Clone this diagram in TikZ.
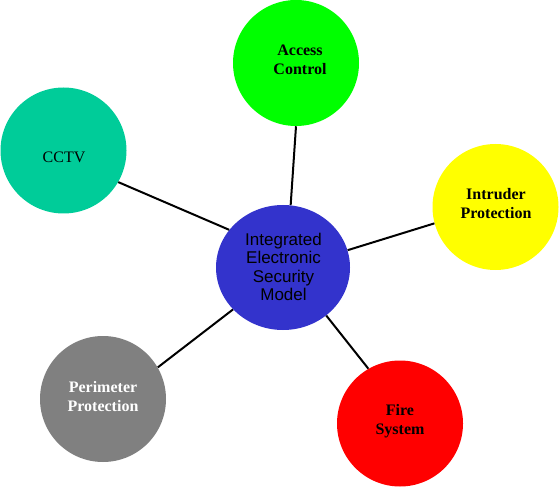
\documentclass[tikz,border=0pt]{standalone}
\usepackage{fontspec}
\setmainfont{Liberation Serif}
\newfontfamily\arialfont{Liberation Sans}
\usetikzlibrary{shapes.geometric}
\definecolor{cblue}{HTML}{3333CC}
\definecolor{cgreen}{HTML}{00FF00}
\definecolor{cteal}{HTML}{00CC99}
\definecolor{cyellow}{HTML}{FFFF00}
\definecolor{cgray}{HTML}{808080}
\definecolor{cred}{HTML}{FF0000}
\tikzset{
  bubble/.style={ellipse, draw=none, inner sep=0pt, minimum width=94.5pt, minimum height=94.5pt},
  hub/.style={ellipse, draw=none, fill=cblue, inner sep=0pt, minimum width=100.5pt, minimum height=93.75pt},
  link/.style={draw=black, line width=1.5pt},
  sertext/.style={align=center, inner sep=0pt, font=\fontsize{12pt}{14.25pt}\selectfont\bfseries},
  hubtext/.style={align=center, inner sep=0pt, font=\arialfont\fontsize{12.75pt}{13.9pt}\selectfont}
}
\begin{document}
\begin{tikzpicture}[x=0.75pt,y=-0.75pt]
\useasboundingbox (0,0) rectangle (560,488);
\node[hub] (hub) at (283,267.5) {};
\node[bubble, fill=cgreen] (acc) at (296,63) {};
\node[bubble, fill=cteal] (cctv) at (63.5,150.5) {};
\node[bubble, fill=cyellow] (intr) at (495.5,207) {};
\node[bubble, fill=cgray] (peri) at (103,399) {};
\node[bubble, fill=cred] (fire) at (400,423.5) {};
\draw[link] (hub.83.6) -- (acc.-90);
\draw[link] (hub.145.4) -- (cctv.-30.8);
\draw[link] (hub.15) -- (intr.-165.6);
\draw[link] (hub.220.6) -- (peri.30.2);
\draw[link] (hub.-48.3) -- (fire.120);
\node[hubtext] (hubt) at (283.5,267) {Integrated\\Electronic\\Security\\Model};
\node[sertext] (acct) at (300,60) {Access\\Control};
\node[sertext, font=\fontsize{12pt}{14.25pt}\selectfont] (cctvt) at (64,157.5) {CCTV};
\node[sertext] (intrt) at (496,204) {Intruder\\Protection};
\node[sertext, text=white] (perit) at (103,396.5) {Perimeter\\Protection};
\node[sertext] (firet) at (400,421) {Fire\\System};
\end{tikzpicture}
\end{document}
